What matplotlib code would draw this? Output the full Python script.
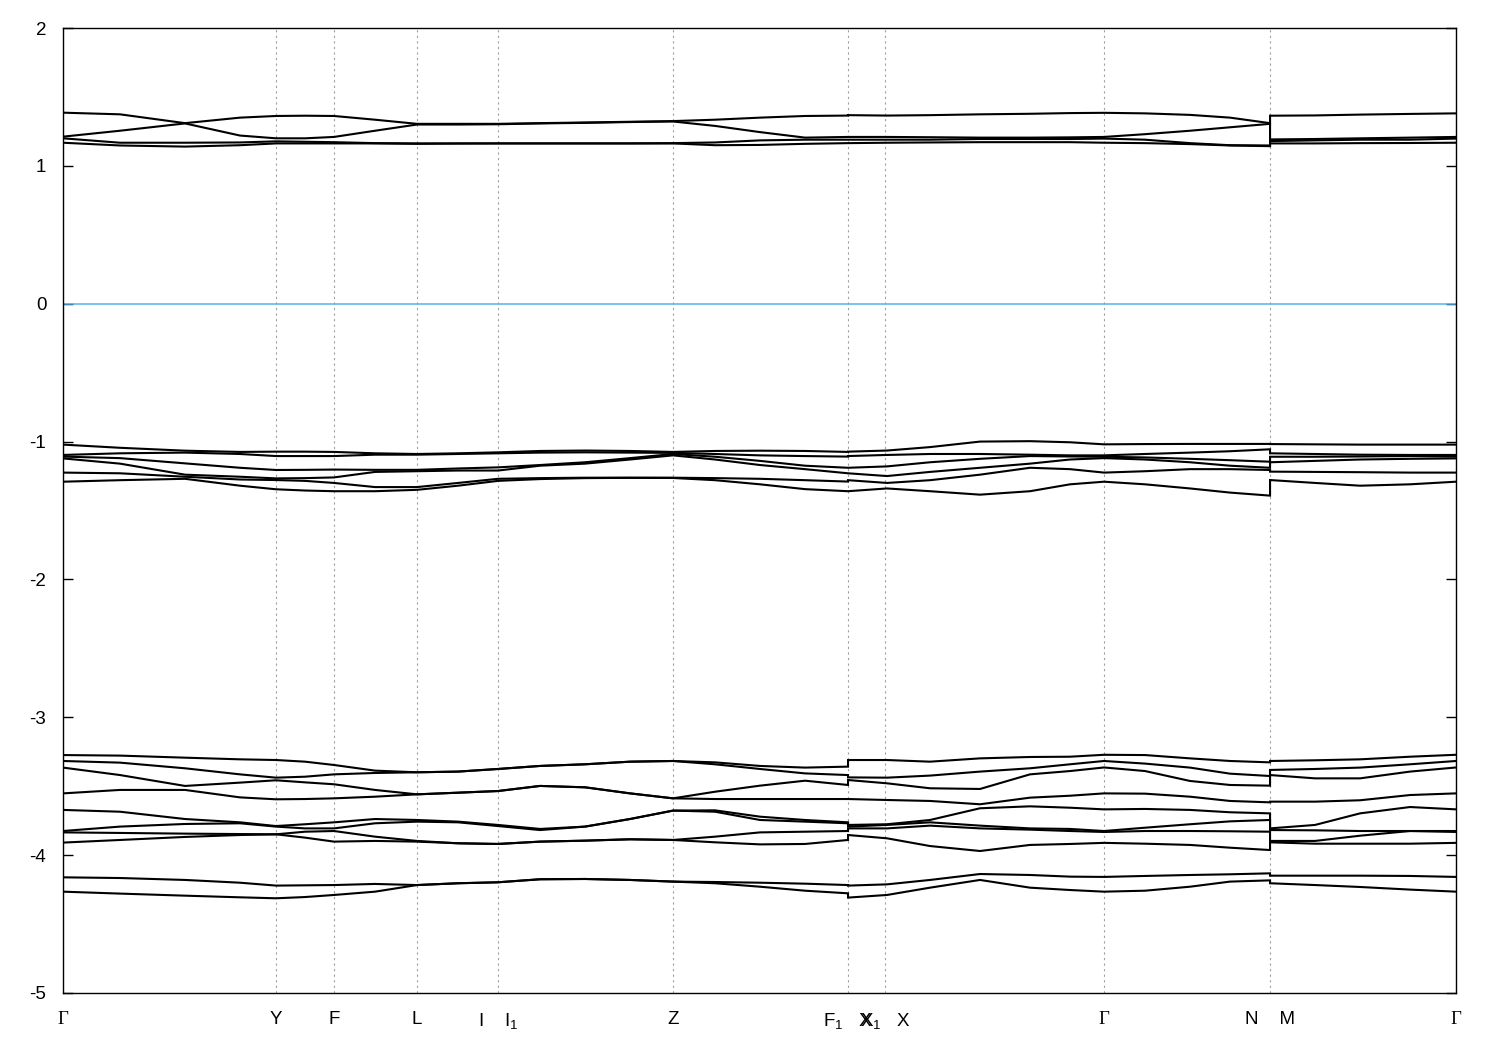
import numpy as np
import matplotlib
matplotlib.use("Agg")
import matplotlib.pyplot as plt

plt.rcParams['font.family'] = ['Liberation Sans', 'DejaVu Sans']
plt.rcParams['mathtext.fontset'] = 'custom'
plt.rcParams['mathtext.rm'] = 'Liberation Sans'
plt.rcParams['mathtext.it'] = 'Liberation Sans'
plt.rcParams['axes.unicode_minus'] = False

# high-symmetry points along the path (path length, arbitrary units)
tick_pos = [0.0, 2.13, 2.71, 3.54, 4.35, 6.10, 7.85, 8.22, 10.41, 12.07, 13.93]
tick_labels = ['Γ', 'Y', 'F', 'L', 'I    I$_1$', 'Z', 'F$_1$   X', 'X$_1$   X', 'Γ', 'N    M', 'Γ']

# k samples of the three continuous pieces (Γ..F1 | X..N | M..Γ)
kA = [0.0, 0.57, 1.22, 1.77, 2.13, 2.42, 2.71, 3.12, 3.54, 3.95, 4.35,
      4.77, 5.22, 5.67, 6.10, 6.52, 6.97, 7.42, 7.85]
kB = [7.85, 8.24, 8.67, 9.17, 9.67, 10.07, 10.41, 10.82, 11.27, 11.67, 12.07]
kC = [12.07, 12.52, 12.97, 13.47, 13.93]

# conduction bands near 1.2-1.4 eV (one row per k sample)
topA = [[1.386, 1.212, 1.200, 1.168], [1.374, 1.255, 1.168, 1.148],
        [1.310, 1.308, 1.168, 1.140], [1.350, 1.220, 1.170, 1.150],
        [1.362, 1.200, 1.178, 1.163], [1.364, 1.200, 1.175, 1.163],
        [1.362, 1.210, 1.172, 1.163], [1.335, 1.255, 1.165, 1.163],
        [1.305, 1.300, 1.163, 1.160], [1.305, 1.300, 1.163, 1.162],
        [1.305, 1.302, 1.163, 1.163], [1.310, 1.308, 1.163, 1.163],
        [1.315, 1.312, 1.163, 1.163], [1.320, 1.318, 1.163, 1.163],
        [1.325, 1.322, 1.165, 1.163], [1.335, 1.290, 1.170, 1.150],
        [1.350, 1.245, 1.185, 1.152], [1.362, 1.205, 1.190, 1.160],
        [1.365, 1.210, 1.190, 1.165]]
topB = [[1.368, 1.210, 1.190, 1.165], [1.365, 1.210, 1.190, 1.168],
        [1.368, 1.208, 1.190, 1.170], [1.374, 1.205, 1.195, 1.172],
        [1.378, 1.205, 1.195, 1.172], [1.383, 1.207, 1.195, 1.172],
        [1.385, 1.210, 1.198, 1.168], [1.381, 1.230, 1.190, 1.165],
        [1.370, 1.255, 1.165, 1.158], [1.350, 1.280, 1.150, 1.148],
        [1.310, 1.305, 1.148, 1.143]]
topC = [[1.364, 1.192, 1.180, 1.163], [1.366, 1.195, 1.185, 1.163],
        [1.372, 1.200, 1.190, 1.165], [1.377, 1.205, 1.190, 1.166],
        [1.381, 1.210, 1.198, 1.168]]

# valence bands near -1.0 .. -1.4 eV
midA = [[-1.022, -1.097, -1.109, -1.122, -1.225, -1.291],
        [-1.045, -1.085, -1.120, -1.160, -1.230, -1.280],
        [-1.066, -1.080, -1.158, -1.240, -1.255, -1.270],
        [-1.075, -1.090, -1.190, -1.255, -1.275, -1.320],
        [-1.073, -1.105, -1.206, -1.267, -1.279, -1.346],
        [-1.073, -1.105, -1.205, -1.265, -1.285, -1.355],
        [-1.075, -1.105, -1.203, -1.260, -1.300, -1.360],
        [-1.085, -1.095, -1.205, -1.220, -1.330, -1.360],
        [-1.090, -1.095, -1.205, -1.215, -1.330, -1.350],
        [-1.085, -1.090, -1.195, -1.210, -1.300, -1.320],
        [-1.078, -1.085, -1.187, -1.210, -1.270, -1.285],
        [-1.068, -1.080, -1.170, -1.175, -1.265, -1.272],
        [-1.065, -1.078, -1.150, -1.160, -1.262, -1.265],
        [-1.068, -1.080, -1.120, -1.130, -1.262, -1.263],
        [-1.075, -1.082, -1.090, -1.100, -1.262, -1.264],
        [-1.068, -1.090, -1.110, -1.130, -1.265, -1.280],
        [-1.066, -1.100, -1.140, -1.170, -1.270, -1.310],
        [-1.068, -1.105, -1.175, -1.200, -1.280, -1.345],
        [-1.075, -1.109, -1.190, -1.230, -1.290, -1.360]]
midB = [[-1.073, -1.105, -1.190, -1.230, -1.280, -1.360],
        [-1.065, -1.097, -1.180, -1.250, -1.300, -1.340],
        [-1.040, -1.090, -1.150, -1.220, -1.280, -1.360],
        [-1.000, -1.090, -1.125, -1.190, -1.240, -1.385],
        [-0.997, -1.095, -1.105, -1.160, -1.190, -1.360],
        [-1.005, -1.100, -1.108, -1.130, -1.200, -1.310],
        [-1.020, -1.100, -1.110, -1.120, -1.225, -1.291],
        [-1.018, -1.090, -1.115, -1.130, -1.215, -1.310],
        [-1.017, -1.080, -1.125, -1.150, -1.200, -1.340],
        [-1.017, -1.070, -1.135, -1.175, -1.200, -1.370],
        [-1.017, -1.056, -1.146, -1.190, -1.206, -1.392]]
midC = [[-1.018, -1.085, -1.110, -1.150, -1.218, -1.279],
        [-1.020, -1.090, -1.110, -1.140, -1.220, -1.300],
        [-1.022, -1.095, -1.108, -1.130, -1.222, -1.320],
        [-1.022, -1.097, -1.105, -1.125, -1.225, -1.310],
        [-1.022, -1.097, -1.109, -1.122, -1.225, -1.291]]

# valence bands near -3.3 .. -4.3 eV
botA = [[-3.274, -3.317, -3.365, -3.552, -3.672, -3.825, -3.835, -3.909, -4.161, -4.265],
        [-3.278, -3.329, -3.419, -3.527, -3.685, -3.793, -3.839, -3.890, -4.166, -4.279],
        [-3.293, -3.370, -3.498, -3.527, -3.738, -3.774, -3.844, -3.868, -4.180, -4.294],
        [-3.305, -3.414, -3.474, -3.581, -3.762, -3.769, -3.847, -3.854, -4.200, -4.306],
        [-3.310, -3.438, -3.457, -3.595, -3.789, -3.793, -3.849, -3.849, -4.221, -4.313],
        [-3.322, -3.431, -3.472, -3.593, -3.776, -3.806, -3.830, -3.873, -4.219, -4.304],
        [-3.346, -3.414, -3.486, -3.588, -3.762, -3.806, -3.825, -3.902, -4.217, -4.289],
        [-3.387, -3.404, -3.527, -3.576, -3.738, -3.769, -3.866, -3.897, -4.209, -4.265],
        [-3.399, -3.399, -3.559, -3.559, -3.745, -3.757, -3.897, -3.902, -4.217, -4.217],
        [-3.394, -3.394, -3.547, -3.547, -3.757, -3.762, -3.914, -3.914, -4.204, -4.204],
        [-3.375, -3.375, -3.535, -3.535, -3.781, -3.789, -3.919, -3.919, -4.197, -4.197],
        [-3.353, -3.353, -3.498, -3.498, -3.810, -3.818, -3.902, -3.902, -4.175, -4.175],
        [-3.341, -3.341, -3.508, -3.508, -3.793, -3.793, -3.895, -3.895, -4.173, -4.173],
        [-3.322, -3.322, -3.552, -3.552, -3.738, -3.738, -3.885, -3.885, -4.180, -4.180],
        [-3.317, -3.317, -3.588, -3.588, -3.677, -3.677, -3.890, -3.890, -4.192, -4.192],
        [-3.327, -3.341, -3.540, -3.593, -3.675, -3.685, -3.866, -3.907, -4.195, -4.204],
        [-3.353, -3.375, -3.496, -3.593, -3.721, -3.745, -3.835, -3.922, -4.200, -4.229],
        [-3.365, -3.407, -3.460, -3.593, -3.745, -3.757, -3.830, -3.919, -4.207, -4.258],
        [-3.358, -3.419, -3.491, -3.593, -3.762, -3.769, -3.825, -3.890, -4.217, -4.277]]
botB = [[-3.310, -3.436, -3.455, -3.593, -3.781, -3.793, -3.806, -3.854, -4.221, -4.308],
        [-3.310, -3.438, -3.479, -3.600, -3.776, -3.781, -3.806, -3.878, -4.212, -4.289],
        [-3.322, -3.423, -3.515, -3.607, -3.745, -3.762, -3.786, -3.934, -4.180, -4.236],
        [-3.298, -3.394, -3.520, -3.631, -3.660, -3.786, -3.806, -3.970, -4.137, -4.180],
        [-3.288, -3.370, -3.414, -3.583, -3.646, -3.806, -3.815, -3.926, -4.144, -4.236],
        [-3.286, -3.341, -3.390, -3.569, -3.656, -3.810, -3.825, -3.919, -4.156, -4.253],
        [-3.272, -3.317, -3.364, -3.552, -3.668, -3.825, -3.832, -3.911, -4.158, -4.265],
        [-3.274, -3.336, -3.390, -3.554, -3.665, -3.801, -3.825, -3.917, -4.151, -4.258],
        [-3.298, -3.365, -3.462, -3.576, -3.672, -3.776, -3.825, -3.926, -4.144, -4.229],
        [-3.317, -3.409, -3.491, -3.607, -3.689, -3.755, -3.827, -3.946, -4.139, -4.192],
        [-3.327, -3.426, -3.496, -3.617, -3.697, -3.745, -3.830, -3.963, -4.132, -4.183]]
botC = [[-3.317, -3.382, -3.419, -3.612, -3.806, -3.818, -3.897, -3.907, -4.149, -4.204],
        [-3.312, -3.375, -3.443, -3.612, -3.781, -3.820, -3.897, -3.917, -4.149, -4.217],
        [-3.305, -3.365, -3.443, -3.602, -3.697, -3.825, -3.859, -3.917, -4.149, -4.231],
        [-3.286, -3.341, -3.394, -3.564, -3.651, -3.825, -3.825, -3.917, -4.151, -4.250],
        [-3.272, -3.317, -3.364, -3.552, -3.668, -3.825, -3.832, -3.911, -4.158, -4.265]]

fig = plt.figure(figsize=(15, 10.5), dpi=100)
ax = fig.add_axes([0.042, 0.0543, 0.9287, 0.919])

k = np.array(kA + kB + kC)
for group in [(topA, topB, topC), (midA, midB, midC), (botA, botB, botC)]:
    E = np.array(group[0] + group[1] + group[2])
    for b in range(E.shape[1]):
        ax.plot(k, E[:, b], color='black', linewidth=1.5, solid_joinstyle='miter')

# Fermi level
ax.axhline(0, color='#56b4e9', linewidth=1.1)

ax.set_xlim(tick_pos[0], tick_pos[-1])
ax.set_ylim(-5, 2)
ax.set_xticks(tick_pos)
ax.set_xticklabels(tick_labels)
for lab in ax.get_xticklabels():
    if lab.get_text() == 'Γ':
        lab.set_fontfamily('Liberation Serif')
        lab.set_fontsize(15)
ax.set_yticks(range(-5, 3))
ax.tick_params(axis='both', direction='in', length=7, width=1, labelsize=13.5)
ax.tick_params(axis='y', right=True, pad=12)
ax.tick_params(axis='x', length=0, pad=13)
ax.grid(axis='x', color='#a0a0a0', linestyle=(0, (2, 3)), linewidth=0.8)
for s in ax.spines.values():
    s.set_linewidth(1.0)

fig.savefig('out.png', dpi=100)
